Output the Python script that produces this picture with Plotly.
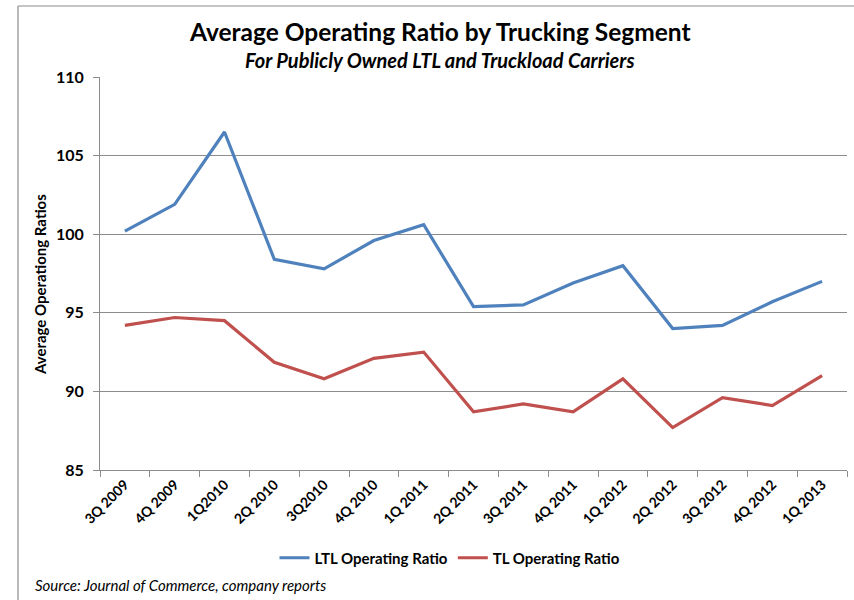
import plotly.graph_objects as go

quarters = ["3Q 2009", "4Q 2009", "1Q2010", "2Q 2010", "3Q2010", "4Q 2010", "1Q 2011",
            "2Q 2011", "3Q 2011", "4Q 2011", "1Q 2012", "2Q 2012", "3Q 2012", "4Q 2012", "1Q 2013"]
ltl_ratio = [100.2, 101.9, 106.5, 98.4, 97.8, 99.6, 100.6, 95.4, 95.5, 96.9, 98.0, 94.0, 94.2, 95.7, 97.0]
tl_ratio = [94.2, 94.7, 94.5, 91.85, 90.8, 92.1, 92.5, 88.7, 89.2, 88.7, 90.8, 87.7, 89.6, 89.1, 91.0]
y_ticks = [85, 90, 95, 100, 105, 110]

FONT = "Lato"
GRID = "#8c8c8c"

fig = go.Figure()
fig.add_trace(go.Scatter(x=quarters, y=ltl_ratio, mode="lines", name="LTL Operating Ratio",
                         line=dict(color="#4F81BD", width=3.2)))
fig.add_trace(go.Scatter(x=quarters, y=tl_ratio, mode="lines", name="TL Operating Ratio",
                         line=dict(color="#C0504D", width=3.2)))

L, R, T, B = 100, 7, 77, 130
W, H = 854, 600
pw, ph = W - L - R, H - T - B

def px(x):
    return (x - L) / pw

def py(y):
    return (H - B - y) / ph

fig.update_layout(
    width=W, height=H,
    margin=dict(l=L, r=R, t=T, b=B, pad=0),
    paper_bgcolor="white", plot_bgcolor="white",
    font=dict(family=FONT, color="black"),
    showlegend=True,
    legend=dict(orientation="h", x=px(450), xanchor="center", y=py(558), yanchor="middle",
                font=dict(family=FONT, size=15, color="black", weight="bold"),
                itemwidth=30, tracegroupgap=0, bgcolor="rgba(0,0,0,0)"),
    xaxis=dict(type="category", showgrid=False, showline=True, linecolor=GRID, linewidth=1,
               ticks="outside", tickson="boundaries", ticklen=6, tickcolor=GRID,
               tickangle=-45, tickfont=dict(family=FONT, size=14, weight="bold"),
               range=[-0.5, len(quarters) - 0.5], fixedrange=True),
    yaxis=dict(range=[85, 110], tickvals=y_ticks, showgrid=True, gridcolor=GRID, gridwidth=1,
               showline=True, linecolor=GRID, linewidth=1, ticks="outside", ticklen=6,
               tickcolor=GRID, tickfont=dict(family=FONT, size=16, weight="bold"),
               ticklabelstandoff=6, zeroline=False, fixedrange=True),
    annotations=[
        dict(text="<b>Average Operating Ratio by Trucking Segment</b>", xref="paper", yref="paper",
             x=px(440), y=py(32), xanchor="center", yanchor="middle", showarrow=False,
             font=dict(family=FONT, size=24.5, color="black")),
        dict(text="<b><i>For Publicly Owned LTL and Truckload Carriers</i></b>", xref="paper", yref="paper",
             x=px(440), y=py(60), xanchor="center", yanchor="middle", showarrow=False,
             font=dict(family=FONT, size=20, color="black")),
        dict(text="<b>Average Operationg Ratios</b>", xref="paper", yref="paper",
             x=px(40), y=py(285), xanchor="center", yanchor="middle", showarrow=False,
             textangle=-90, font=dict(family=FONT, size=15, color="black")),
        dict(text="<i>Source: Journal of Commerce, company reports</i>", xref="paper", yref="paper",
             x=px(33), y=py(585), xanchor="left", yanchor="middle", showarrow=False,
             font=dict(family=FONT, size=15, color="black")),
    ],
    shapes=[
        dict(type="line", xref="paper", yref="paper", x0=px(18), x1=px(W + 5), y0=py(6), y1=py(6),
             line=dict(color="#8c8c8c", width=1.2)),
        dict(type="line", xref="paper", yref="paper", x0=px(18), x1=px(18), y0=py(6), y1=py(H + 5),
             line=dict(color="#8c8c8c", width=1.2)),
    ],
)

fig.write_html("out.html", config={"displayModeBar": False},
               post_script="document.body.style.margin='0';document.body.style.overflow='hidden';")
